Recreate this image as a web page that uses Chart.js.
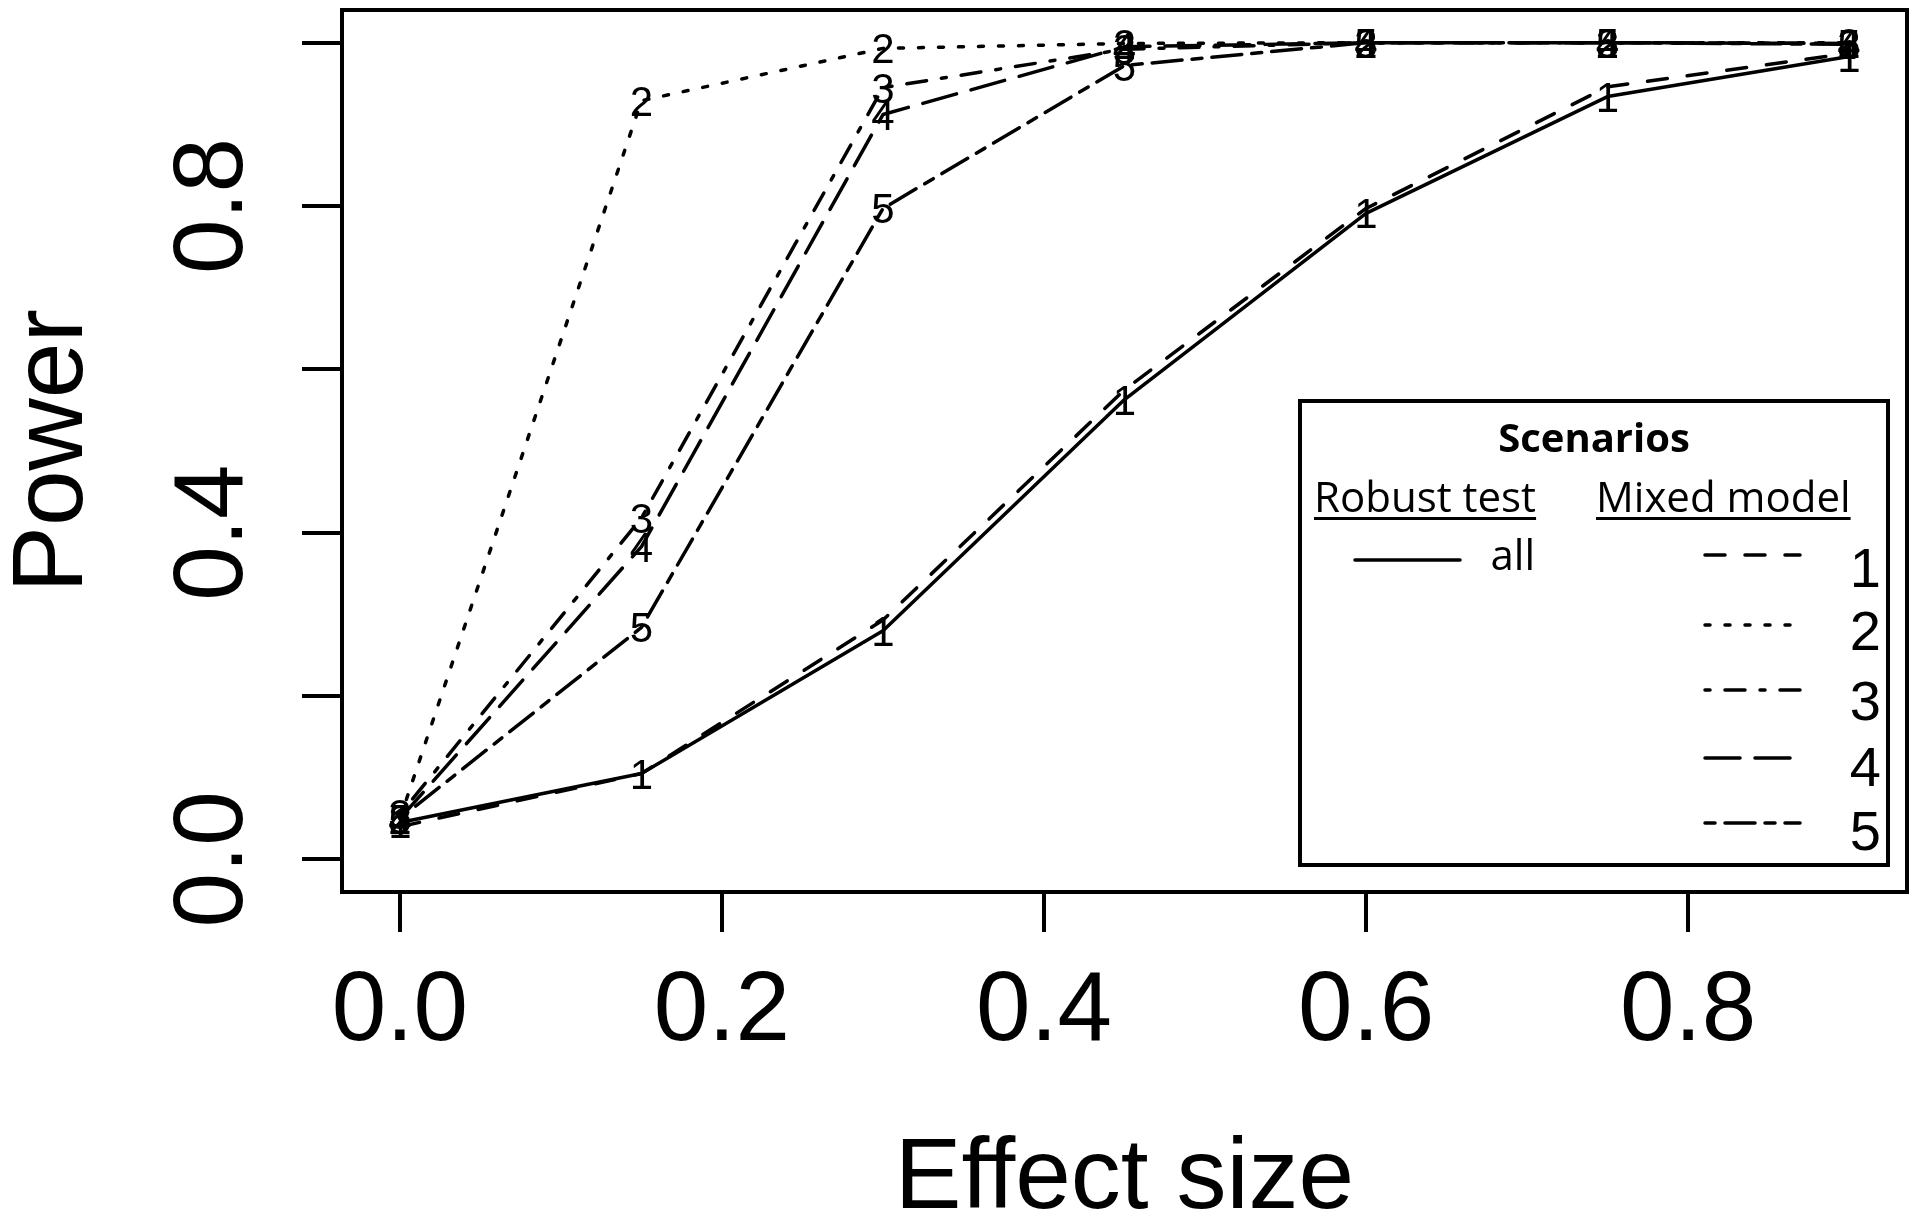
<!DOCTYPE html>
<html>
<head>
<meta charset="utf-8">
<script src="https://cdn.jsdelivr.net/npm/chart.js@4.4.1/dist/chart.umd.min.js"></script>
<style>
  html, body { margin: 0; padding: 0; background: #ffffff; }
  canvas { display: block; }
</style>
</head>
<body>
<canvas id="chart" width="1920" height="1222" style="width:1920px;height:1222px"></canvas>
<script>
// ---- data ----
const effectSizes = [0, 0.15, 0.30, 0.45, 0.60, 0.75, 0.90];
const robustAll   = [0.045, 0.105, 0.280, 0.563, 0.791, 0.934, 0.983];
const mixed1      = [0.040, 0.105, 0.293, 0.575, 0.797, 0.946, 0.987];
const mixed2      = [0.050, 0.929, 0.993, 0.999, 1.000, 1.000, 1.000];
const mixed3      = [0.055, 0.418, 0.945, 0.992, 1.000, 1.000, 0.999];
const mixed4      = [0.050, 0.383, 0.912, 0.995, 1.000, 1.000, 0.999];
const mixed5      = [0.050, 0.284, 0.797, 0.972, 1.000, 1.000, 0.998];

const xTickValues = [0, 0.2, 0.4, 0.6, 0.8];
const xTickLabels = ['0.0', '0.2', '0.4', '0.6', '0.8'];
const yTickValues = [0, 0.2, 0.4, 0.6, 0.8, 1.0];
const yTickLabels = ['0.0', '', '0.4', '', '0.8', ''];

const xTitle = 'Effect size';
const yTitle = 'Power';
const legendTitle = 'Scenarios';
const legendRobustHeader = 'Robust test';
const legendMixedHeader = 'Mixed model';
const legendRobustLabel = 'all';
const mixedNames = ['1', '2', '3', '4', '5'];

// ---- styles (R line types, unit = 5px) ----
const U = 5;
const dashSolid    = [];
const dashDashed   = [4 * U, 4 * U];
const dashDotted   = [1 * U, 3 * U];
const dashDotDash  = [1 * U, 3 * U, 4 * U, 3 * U];
const dashLongDash = [7 * U, 3 * U];
const dashTwoDash  = [2 * U, 2 * U, 6 * U, 2 * U];
const LW = 3.5;

const seriesValues = [robustAll, mixed1, mixed2, mixed3, mixed4, mixed5];
const seriesDashes = [dashSolid, dashDashed, dashDotted, dashDotDash, dashLongDash, dashTwoDash];
const seriesChars  = ['1', null, '2', '3', '4', '5'];
const seriesLabels = ['Robust test: all', 'Mixed model: 1', 'Mixed model: 2', 'Mixed model: 3', 'Mixed model: 4', 'Mixed model: 5'];

const datasets = seriesValues.map((vals, i) => ({
  label: seriesLabels[i],
  data: effectSizes.map((x, j) => ({ x: x, y: vals[j] })),
  borderColor: '#000000',
  backgroundColor: '#000000',
  borderWidth: LW,
  borderDash: seriesDashes[i],
  borderCapStyle: 'round',
  borderJoinStyle: 'round',
  pointRadius: 0,
  pointHoverRadius: 0,
  fill: false,
  tension: 0,
  pointChar: seriesChars[i]
}));

const SANS = '"Liberation Sans", Arial, Helvetica, sans-serif';
const LEG = '"Open Sans", "Liberation Sans", sans-serif';

// point characters (R type="b" with numeric pch)
const pointCharPlugin = {
  id: 'pointChars',
  afterDatasetsDraw(chart) {
    const ctx = chart.ctx;
    const size = 42;
    ctx.save();
    ctx.font = size + 'px ' + SANS;
    ctx.fillStyle = '#000000';
    ctx.textAlign = 'center';
    ctx.textBaseline = 'alphabetic';
    chart.data.datasets.forEach((ds, i) => {
      if (!ds.pointChar) return;
      const meta = chart.getDatasetMeta(i);
      meta.data.forEach(pt => {
        ctx.fillText(ds.pointChar, pt.x, pt.y + size * 0.358);
      });
    });
    ctx.restore();
  }
};

// box around plot region
const boxPlugin = {
  id: 'plotBox',
  afterDraw(chart) {
    const { ctx, chartArea: a } = chart;
    ctx.save();
    ctx.strokeStyle = '#000000';
    ctx.lineWidth = 4;
    ctx.setLineDash([]);
    ctx.strokeRect(a.left, a.top, a.right - a.left, a.bottom - a.top);
    ctx.restore();
  }
};

// legend box (R legend with two columns)
const legendPlugin = {
  id: 'scenarioLegend',
  afterDraw(chart) {
    const ctx = chart.ctx;
    const bx = 1300, by = 401, bw = 588, bh = 464;
    ctx.save();
    ctx.fillStyle = '#ffffff';
    ctx.fillRect(bx, by, bw, bh);
    ctx.strokeStyle = '#000000';
    ctx.lineWidth = 4;
    ctx.setLineDash([]);
    ctx.strokeRect(bx, by, bw, bh);

    ctx.fillStyle = '#000000';
    // title
    ctx.font = 'bold 40px ' + LEG;
    ctx.textAlign = 'center';
    ctx.textBaseline = 'alphabetic';
    ctx.fillText(legendTitle, bx + bw / 2, 452);

    // headers with underline
    ctx.font = '42px ' + LEG;
    ctx.textAlign = 'left';
    const headers = [[legendRobustHeader, 1314], [legendMixedHeader, 1596]];
    headers.forEach(([t, x]) => {
      ctx.fillText(t, x, 512);
      const w = ctx.measureText(t).width;
      ctx.fillRect(x, 517, w, 3);
    });

    // robust row
    ctx.lineWidth = LW;
    ctx.lineCap = 'round';
    ctx.strokeStyle = '#000000';
    ctx.setLineDash(dashSolid);
    ctx.beginPath();
    ctx.moveTo(1355, 560);
    ctx.lineTo(1460, 560);
    ctx.stroke();
    ctx.textAlign = 'right';
    ctx.fillText(legendRobustLabel, 1535, 570);

    // mixed rows
    const lineYs = [555, 625, 690, 758, 823];
    const textYs = [587, 650, 720, 786, 850];
    const mixedDashes = seriesDashes.slice(1);
    ctx.font = '56px ' + SANS;
    mixedNames.forEach((name, i) => {
      ctx.setLineDash(mixedDashes[i]);
      ctx.beginPath();
      ctx.moveTo(1705, lineYs[i]);
      ctx.lineTo(1800, lineYs[i]);
      ctx.stroke();
      ctx.fillText(name, 1881, textYs[i]);
    });
    ctx.restore();
  }
};

const tickFont = { family: SANS, size: 98 };

new Chart(document.getElementById('chart'), {
  type: 'line',
  data: { datasets: datasets },
  options: {
    responsive: false,
    maintainAspectRatio: false,
    devicePixelRatio: 1,
    animation: false,
    events: [],
    layout: { padding: { top: 10, right: 13, bottom: 0, left: 0 } },
    plugins: {
      legend: { display: false },
      tooltip: { enabled: false },
      title: { display: false }
    },
    scales: {
      x: {
        type: 'linear',
        position: 'bottom',
        min: -0.036,
        max: 0.936,
        afterBuildTicks: (scale) => { scale.ticks = xTickValues.map(v => ({ value: v })); },
        afterFit: (scale) => {
          scale.height = 330;
          scale.paddingLeft = 0;
          scale.paddingRight = 0;
        },
        ticks: {
          autoSkip: false,
          maxRotation: 0,
          minRotation: 0,
          padding: 22,
          color: '#000000',
          font: tickFont,
          callback: (value, index) => xTickLabels[index]
        },
        grid: {
          display: true,
          drawOnChartArea: false,
          drawTicks: true,
          tickLength: 40,
          lineWidth: 4,
          tickWidth: 4,
          color: '#000000',
          tickColor: '#000000'
        },
        border: { display: false },
        title: {
          display: true,
          text: xTitle,
          color: '#000000',
          font: { family: SANS, size: 100, lineHeight: 0.84 },
          padding: 0
        }
      },
      y: {
        type: 'linear',
        position: 'left',
        min: -0.04,
        max: 1.04,
        afterBuildTicks: (scale) => { scale.ticks = yTickValues.map(v => ({ value: v })); },
        afterFit: (scale) => {
          scale.width = 342;
          scale.paddingTop = 0;
          scale.paddingBottom = 0;
        },
        ticks: {
          autoSkip: false,
          minRotation: 90,
          maxRotation: 90,
          crossAlign: 'center',
          padding: 19,
          color: '#000000',
          font: tickFont,
          callback: (value, index) => yTickLabels[index]
        },
        grid: {
          display: true,
          drawOnChartArea: false,
          drawTicks: true,
          tickLength: 40,
          lineWidth: 4,
          tickWidth: 4,
          color: '#000000',
          tickColor: '#000000'
        },
        border: { display: false },
        title: {
          display: true,
          text: yTitle,
          color: '#000000',
          font: { family: SANS, size: 100, lineHeight: 0.96 },
          padding: { top: 6, bottom: 0 }
        }
      }
    }
  },
  plugins: [pointCharPlugin, boxPlugin, legendPlugin]
});
</script>
</body>
</html>
